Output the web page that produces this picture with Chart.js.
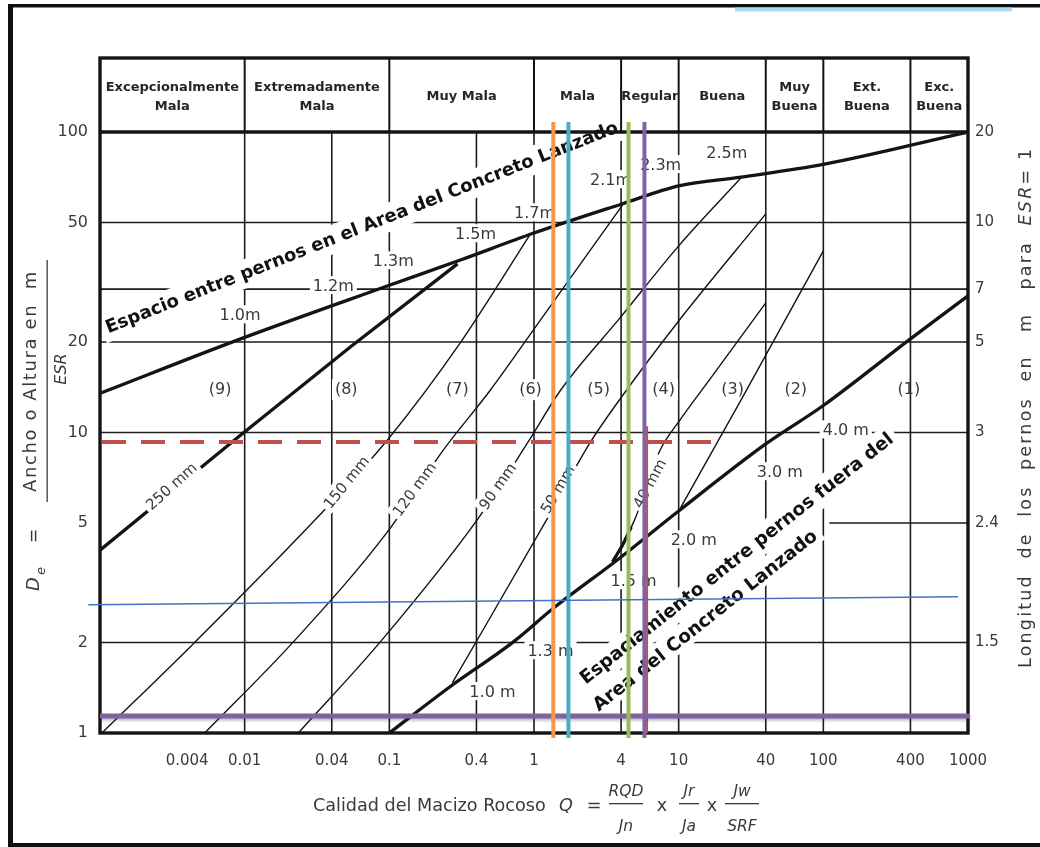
<!DOCTYPE html>
<html lang="es">
<head>
<meta charset="utf-8">
<title>Sistema Q – Categorías de sostenimiento</title>
<script src="https://cdn.jsdelivr.net/npm/chart.js@4.4.1/dist/chart.umd.min.js"></script>
<style>
  html, body { margin: 0; padding: 0; background: #ffffff; }
  canvas { display: block; }
</style>
</head>
<body>
<canvas id="qchart" width="1040" height="847"></canvas>
<script>
// ---------- Axis ticks ----------
const qTicks = [0.004, 0.01, 0.04, 0.1, 0.4, 1, 4, 10, 40, 100, 400, 1000];
const qTickLabels = ['0.004', '0.01', '0.04', '0.1', '0.4', '1', '4', '10', '40', '100', '400', '1000'];
const qGridValues = [0.01, 0.04, 0.1, 0.4, 1, 4, 10, 40, 100, 400];
const deTicks = [1, 2, 5, 10, 20, 50, 100];
const deTickLabels = ['1', '2', '5', '10', '20', '50', '100'];
const deGridValues = [2, 10, 20, 30, 50];
const boltLengthTicks = [2, 5, 10, 20, 30, 50, 100];
const boltLengthLabels = ['1.5', '2.4', '3', '5', '7', '10', '20'];

// ---------- Rock mass classes (top band) ----------
const rockClassBounds = [0.001, 0.01, 0.1, 1, 4, 10, 40, 100, 400, 1000];
const rockClassNames = [
  ['Excepcionalmente', 'Mala'], ['Extremadamente', 'Mala'], ['Muy Mala'], ['Mala'],
  ['Regular'], ['Buena'], ['Muy', 'Buena'], ['Ext.', 'Buena'], ['Exc.', 'Buena']
];

// ---------- Curves: Q (x) and De (y) ----------
const envelopeQ  = [0.001, 0.0089, 0.1, 0.31, 1, 4, 10, 27, 100, 1000];
const envelopeDe = [13.5, 20.3, 30.9, 37.5, 46.1, 57.5, 66.2, 70.8, 78, 100];

const bareBoltQ  = [0.1, 0.26, 0.72, 1.36, 3.8, 10, 40, 100, 400, 1000];
const bareBoltDe = [1, 1.42, 2.01, 2.6, 3.78, 5.48, 9.16, 12.3, 20.5, 28.5];

const sc250Q  = [0.001, 0.0089, 0.054, 0.296];
const sc250De = [4.06, 9.6, 19.3, 36.4];
const sc150Q  = [0.00103, 0.00455, 0.032, 0.097, 0.31, 0.946];
const sc150De = [1.0, 2.01, 5.23, 9.44, 19.9, 45.8];
const sc120Q  = [0.0053, 0.0217, 0.097, 0.236, 0.5, 1.11, 4.1];
const sc120De = [1.0, 2.01, 4.67, 8.74, 13.85, 23.7, 57.2];
const sc90Q   = [0.0235, 0.0866, 0.413, 0.902, 1.53, 3.97, 9.84, 27.3];
const sc90De  = [1.0, 2.01, 5.19, 9.23, 13.85, 24.2, 41.4, 70.8];
const sc50Q   = [0.273, 1.2, 2.46, 3.97, 10, 40];
const sc50De  = [1.47, 5.04, 9.3, 13.0, 23.5, 53.4];
const sc40Q   = [3.49, 4.96, 7.39, 10.2, 16.7, 40];
const sc40De  = [3.71, 5.12, 8.68, 11.0, 15.2, 27.0];
const sc40FootQ  = [3.49, 4.1, 4.7];
const sc40FootDe = [3.71, 4.22, 4.85];
const boltZoneQ  = [10.3, 26.9, 100];
const boltZoneDe = [5.61, 12.8, 40.2];

// ---------- Text on the chart ----------
const envelopeSpacingLabels = ['1.0m', '1.2m', '1.3m', '1.5m', '1.7m', '2.1m', '2.3m', '2.5m'];
const envelopeSpacingQ  = [0.0093, 0.041, 0.1066, 0.394, 1.008, 3.38, 7.51, 21.5];
const envelopeSpacingDe = [24.4, 30.5, 36.9, 45.4, 53.3, 68.7, 77.1, 84.5];
const bareSpacingLabels = ['1.0 m', '1.3 m', '1.5 m', '2.0 m', '3.0 m', '4.0 m'];
const bareSpacingQ  = [0.516, 1.30, 4.88, 12.7, 50, 143];
const bareSpacingDe = [1.36, 1.86, 3.18, 4.35, 7.33, 10.1];
const shotcreteLabels = ['250 mm', '150 mm', '120 mm', '90 mm', '50 mm', '40 mm'];
const shotcreteLabelQ  = [0.00315, 0.0512, 0.151, 0.568, 1.478, 6.40];
const shotcreteLabelDe = [6.59, 6.79, 6.44, 6.59, 6.44, 6.74];
const shotcreteLabelAngle = [-42, -51, -54, -55, -60, -62];
const zoneLabels = ['(9)', '(8)', '(7)', '(6)', '(5)', '(4)', '(3)', '(2)', '(1)'];
const zoneLabelQ = [0.00677, 0.0504, 0.2955, 0.946, 2.80, 7.88, 23.6, 64.5, 390];
const zoneLabelDe = 13.85;

// ---------- Project marks drawn over the chart ----------
const markerQ = [1.36, 1.73, 4.5, 5.8];
const limitDe = 9.3;
const limitQMax = 17.5;
const limitDropQ = 6.05;
const limitDropTopDe = 10.5;
const purpleLevelDe = 1.14;
const blueLineQ  = [0.00083, 853];
const blueLineDe = [2.67, 2.84];

// ---------- Styles ----------
const INK = '#141414';
const TXT = '#3a3a3a';
const FAM = '"DejaVu Sans", Verdana, sans-serif';
const markerColors = ['#f79646', '#4bacc6', '#9bbb59', '#8064a2'];
const BAND_H = 74;

function series(qs, des) { return qs.map((q, i) => ({ x: q, y: des[i] })); }

function pix(chart) {
  const sx = chart.scales.x, sy = chart.scales.y;
  return { X: v => sx.getPixelForValue(v), Y: v => sy.getPixelForValue(v) };
}

function knockText(ctx, text, x, y, o) {
  const angle = o.angle || 0, pad = o.pad == null ? 3 : o.pad;
  ctx.save();
  ctx.translate(x, y);
  ctx.rotate(angle * Math.PI / 180);
  ctx.font = o.font;
  ctx.textAlign = o.align || 'center';
  ctx.textBaseline = o.baseline || 'middle';
  const m = ctx.measureText(text);
  if (o.knock !== false) {
    const w = m.width;
    const asc = m.actualBoundingBoxAscent, desc = m.actualBoundingBoxDescent;
    const x0 = ctx.textAlign === 'center' ? -w / 2 : (ctx.textAlign === 'left' ? 0 : -w);
    ctx.fillStyle = '#ffffff';
    ctx.fillRect(x0 - pad, -asc - pad, w + 2 * pad, asc + desc + 2 * pad);
  }
  ctx.fillStyle = o.color || TXT;
  ctx.fillText(text, 0, 0);
  ctx.restore();
}

const decor = {
  id: 'qDecor',
  beforeDraw(chart) {
    const ctx = chart.ctx;
    ctx.save();
    ctx.fillStyle = '#ffffff';
    ctx.fillRect(0, 0, chart.width, chart.height);
    ctx.fillStyle = '#0e0f14';
    ctx.fillRect(9, 4, 1031, 3.5);
    ctx.fillRect(8, 4, 5, 843);
    ctx.fillRect(9, 843, 1031, 4);
    ctx.fillStyle = '#a9dcef';
    ctx.fillRect(735, 7.5, 277, 4);
    ctx.restore();
  },
  beforeDatasetsDraw(chart) {
    const { ctx, chartArea: a } = chart;
    const { X, Y } = pix(chart);
    ctx.save();
    ctx.strokeStyle = '#1c1c1c';
    ctx.lineWidth = 1.6;
    ctx.beginPath();
    qGridValues.forEach(q => { const x = X(q); ctx.moveTo(x, a.top); ctx.lineTo(x, a.bottom); });
    deGridValues.forEach(d => { const y = Y(d); ctx.moveTo(a.left, y); ctx.lineTo(a.right, y); });
    // the De = 5 line only runs across the unsupported zone
    const y5 = Y(5);
    ctx.moveTo(X(110), y5); ctx.lineTo(a.right, y5);
    ctx.stroke();
    ctx.restore();
  },
  afterDatasetsDraw(chart) {
    const { ctx, chartArea: a } = chart;
    const { X, Y } = pix(chart);

    // spacing labels along the two bolt-spacing curves
    envelopeSpacingLabels.forEach((t, i) =>
      knockText(ctx, t, X(envelopeSpacingQ[i]), Y(envelopeSpacingDe[i]), { font: '16px ' + FAM, pad: 3 }));
    bareSpacingLabels.forEach((t, i) =>
      knockText(ctx, t, X(bareSpacingQ[i]), Y(bareSpacingDe[i]), { font: '16px ' + FAM, pad: 3 }));
    // shotcrete thickness labels along their lines
    shotcreteLabels.forEach((t, i) =>
      knockText(ctx, t, X(shotcreteLabelQ[i]), Y(shotcreteLabelDe[i]),
        { font: '15px ' + FAM, angle: shotcreteLabelAngle[i], pad: 3 }));
    // support category numbers
    zoneLabels.forEach((t, i) =>
      knockText(ctx, t, X(zoneLabelQ[i]), Y(zoneLabelDe), {
        font: '16px ' + FAM, pad: 3, knock: !(t === '(1)' || t === '(3)')
      }));

    // curve captions
    knockText(ctx, 'Espacio entre pernos en el Area del Concreto Lanzado', X(0.0666), Y(46.3),
      { font: 'bold 18px ' + FAM, angle: -21.5, baseline: 'alphabetic', color: '#111', pad: 5 });
    knockText(ctx, 'Espaciamiento entre pernos fuera del', X(26.6), Y(3.68),
      { font: 'bold 18.5px ' + FAM, angle: -38.3, baseline: 'alphabetic', color: '#111', pad: 5 });
    knockText(ctx, 'Area del Concreto Lanzado', X(16.1), Y(2.29),
      { font: 'bold 18.5px ' + FAM, angle: -38.3, baseline: 'alphabetic', color: '#111', pad: 5 });

    // rock mass class band
    const bandTop = a.top - BAND_H;
    ctx.save();
    ctx.strokeStyle = INK;
    ctx.lineWidth = 2;
    ctx.beginPath();
    rockClassBounds.slice(1, -1).forEach(q => { const x = X(q); ctx.moveTo(x, bandTop); ctx.lineTo(x, a.top); });
    ctx.stroke();
    ctx.fillStyle = '#262626';
    ctx.font = 'bold 13px ' + FAM;
    ctx.textAlign = 'center';
    ctx.textBaseline = 'middle';
    rockClassNames.forEach((lines, i) => {
      const cx = (X(rockClassBounds[i]) + X(rockClassBounds[i + 1])) / 2;
      const mid = bandTop + BAND_H / 2 + 2;
      if (lines.length === 1) ctx.fillText(lines[0], cx, mid);
      else { ctx.fillText(lines[0], cx, mid - 9.5); ctx.fillText(lines[1], cx, mid + 10); }
    });
    // heavy frame
    ctx.lineWidth = 3.4;
    ctx.strokeRect(a.left, bandTop, a.right - a.left, a.bottom - bandTop);
    ctx.beginPath(); ctx.moveTo(a.left, a.top); ctx.lineTo(a.right, a.top); ctx.stroke();
    ctx.restore();

    // project marks
    ctx.save();
    ctx.lineCap = 'butt';
    // red dashed limit and its drop line
    ctx.strokeStyle = '#c0504d';
    ctx.lineWidth = 2;
    ctx.beginPath(); ctx.moveTo(X(limitDropQ), Y(limitDropTopDe)); ctx.lineTo(X(limitDropQ), a.bottom); ctx.stroke();
    ctx.lineWidth = 4;
    ctx.setLineDash([24, 15]);
    ctx.beginPath(); ctx.moveTo(a.left + 2, Y(limitDe)); ctx.lineTo(X(limitQMax), Y(limitDe)); ctx.stroke();
    ctx.setLineDash([]);
    // purple level line with soft shadow
    ctx.save();
    ctx.shadowColor = 'rgba(60,40,90,0.35)';
    ctx.shadowBlur = 3;
    ctx.shadowOffsetY = 2;
    ctx.strokeStyle = '#8064a2';
    ctx.lineWidth = 5;
    ctx.beginPath(); ctx.moveTo(a.left, Y(purpleLevelDe)); ctx.lineTo(a.right + 2, Y(purpleLevelDe)); ctx.stroke();
    ctx.restore();
    // vertical Q markers
    ctx.lineWidth = 4;
    markerQ.forEach((q, i) => {
      ctx.strokeStyle = markerColors[i];
      ctx.beginPath(); ctx.moveTo(X(q), a.top - 10); ctx.lineTo(X(q), a.bottom + 5); ctx.stroke();
    });
    // thin blue reference line
    ctx.strokeStyle = '#4472c4';
    ctx.lineWidth = 1.5;
    ctx.beginPath();
    ctx.moveTo(X(blueLineQ[0]), Y(blueLineDe[0]));
    ctx.lineTo(X(blueLineQ[1]), Y(blueLineDe[1]));
    ctx.stroke();
    ctx.restore();
  },
  afterDraw(chart) {
    const ctx = chart.ctx;
    ctx.save();
    ctx.fillStyle = TXT;
    ctx.textBaseline = 'alphabetic';
    ctx.textAlign = 'left';
    // x title: Calidad del Macizo Rocoso Q = RQD/Jn x Jr/Ja x Jw/SRF
    ctx.font = '17.6px ' + FAM;
    ctx.fillText('Calidad del Macizo Rocoso', 313, 811);
    ctx.textAlign = 'center';
    ctx.font = 'italic 17.6px ' + FAM;
    ctx.fillText('Q', 566, 811);
    ctx.font = '17.6px ' + FAM;
    ctx.fillText('=', 594, 811);
    ctx.fillText('x', 662, 811);
    ctx.fillText('x', 712, 811);
    ctx.font = 'italic 15.5px ' + FAM;
    const frac = (num, den, cx, w) => {
      ctx.fillText(num, cx, 796);
      ctx.fillText(den, cx, 831);
      ctx.fillRect(cx - w / 2, 803, w, 1.3);
    };
    frac('RQD', 'Jn', 626, 34);
    frac('Jr', 'Ja', 689, 20);
    frac('Jw', 'SRF', 742, 34);

    // left title: De = (Ancho o Altura en m) / ESR
    const vtext = (t, x, y, font, spacing) => {
      ctx.save(); ctx.translate(x, y); ctx.rotate(-Math.PI / 2);
      if (spacing) ctx.letterSpacing = spacing;
      ctx.font = font; ctx.textAlign = 'center'; ctx.textBaseline = 'middle';
      ctx.fillText(t, 0, 0); ctx.restore();
    };
    vtext('D', 34, 584, 'italic 18px ' + FAM);
    vtext('e', 42, 571, 'italic 13px ' + FAM);
    vtext('=', 35, 536, '17px ' + FAM);
    vtext('Ancho o Altura en  m', 31, 381, '18px ' + FAM, '1.6px');
    ctx.fillRect(46.5, 260, 1.3, 242);
    vtext('ESR', 62, 369, 'italic 16px ' + FAM);

    // right title
    ctx.save();
    ctx.translate(1026, 668);
    ctx.rotate(-Math.PI / 2);
    ctx.letterSpacing = '2.2px';
    ctx.textAlign = 'left';
    ctx.textBaseline = 'middle';
    let u = 0;
    const seg = (t, font) => { ctx.font = font; ctx.fillText(t, u, 0); u += ctx.measureText(t).width; };
    seg('Longitud  de  los  pernos  en   m   para  ', '17.5px ' + FAM);
    seg('ESR', 'italic 17.5px ' + FAM);
    seg('= 1', '17.5px ' + FAM);
    ctx.restore();
    ctx.restore();
  }
};

const thin = 1.4, thick = 3.3;
const datasets = [
  { data: series(envelopeQ, envelopeDe), borderWidth: thick, cubicInterpolationMode: 'monotone' },
  { data: series(bareBoltQ, bareBoltDe), borderWidth: thick, cubicInterpolationMode: 'monotone' },
  { data: series(sc250Q, sc250De), borderWidth: thick },
  { data: series(sc150Q, sc150De), borderWidth: thin, cubicInterpolationMode: 'monotone' },
  { data: series(sc120Q, sc120De), borderWidth: thin, cubicInterpolationMode: 'monotone' },
  { data: series(sc90Q, sc90De), borderWidth: thin, cubicInterpolationMode: 'monotone' },
  { data: series(sc50Q, sc50De), borderWidth: thin, cubicInterpolationMode: 'monotone' },
  { data: series(sc40Q, sc40De), borderWidth: thin, cubicInterpolationMode: 'monotone' },
  { data: series(sc40FootQ, sc40FootDe), borderWidth: thick },
  { data: series(boltZoneQ, boltZoneDe), borderWidth: thin }
].map(d => Object.assign({ borderColor: INK, pointRadius: 0, fill: false, tension: 0, xAxisID: 'x', yAxisID: 'y' }, d));

const tickFont = { family: FAM, size: 15 };

new Chart(document.getElementById('qchart'), {
  type: 'line',
  data: { datasets },
  options: {
    responsive: false,
    animation: false,
    devicePixelRatio: 1,
    layout: { padding: { top: 132, left: 0, right: 0, bottom: 0 } },
    plugins: { legend: { display: false }, tooltip: { enabled: false }, title: { display: false } },
    events: [],
    scales: {
      x: {
        type: 'logarithmic', position: 'bottom', min: 0.001, max: 1000,
        afterBuildTicks: s => { s.ticks = qTicks.map(v => ({ value: v })); },
        afterFit: s => { s.height = 114; },
        grid: { display: false, drawTicks: false },
        border: { display: false },
        ticks: {
          autoSkip: false, maxRotation: 0, minRotation: 0, padding: 19,
          color: TXT, font: tickFont, callback: (v, i) => qTickLabels[i]
        }
      },
      y: {
        type: 'logarithmic', position: 'left', min: 1, max: 100,
        afterBuildTicks: s => { s.ticks = deTicks.map(v => ({ value: v })); },
        afterFit: s => { s.width = 100; },
        grid: { display: false, drawTicks: false },
        border: { display: false },
        ticks: { autoSkip: false, padding: 12, color: TXT, font: { family: FAM, size: 16 }, callback: (v, i) => deTickLabels[i] }
      },
      y2: {
        type: 'logarithmic', position: 'right', min: 1, max: 100,
        afterBuildTicks: s => { s.ticks = boltLengthTicks.map(v => ({ value: v })); },
        afterFit: s => { s.width = 72; },
        grid: { display: false, drawTicks: false },
        border: { display: false },
        ticks: { autoSkip: false, padding: 7, color: TXT, font: tickFont, callback: (v, i) => boltLengthLabels[i] }
      }
    }
  },
  plugins: [decor]
});
</script>
</body>
</html>
